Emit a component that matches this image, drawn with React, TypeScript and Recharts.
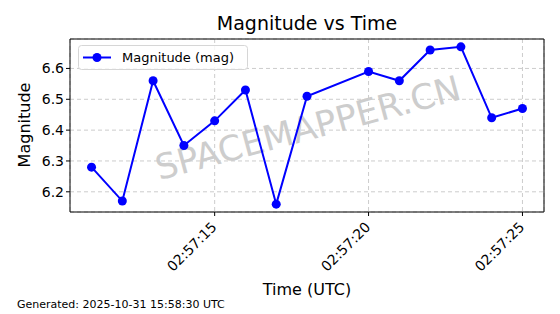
import React from 'react';
import { LineChart, Line, XAxis, YAxis, CartesianGrid } from 'recharts';

// seconds past 02:57:00 UTC
const seconds = [11, 12, 13, 14, 15, 16, 17, 18, 20, 21, 22, 23, 24, 25];
const magnitudes = [6.28, 6.17, 6.56, 6.35, 6.43, 6.53, 6.16, 6.51, 6.59, 6.56, 6.66, 6.67, 6.44, 6.47];
const xTicks = [15, 20, 25];
const yTicks = [6.2, 6.3, 6.4, 6.5, 6.6];

const data = seconds.map((s, i) => ({ t: s, mag: magnitudes[i] }));

const FONT = '"DejaVu Sans", sans-serif';
const W = 560;
const H = 314;
const X_DOMAIN: [number, number] = [10.3, 25.7];
const Y_DOMAIN: [number, number] = [6.1345, 6.6955];

const fmtTime = (s: number) => `02:57:${String(s).padStart(2, '0')}`;

const RotatedTick = ({ x, y, payload }: any) => (
  <g transform={`translate(${x},${y})`}>
    <text
      x={0}
      y={0}
      dx={-5}
      dy={9}
      transform="rotate(-45)"
      textAnchor="end"
      fontSize={14}
      fontFamily={FONT}
      fill="#000"
    >
      {fmtTime(payload.value)}
    </text>
  </g>
);

export default function App() {
  return (
    <div style={{ position: 'absolute', left: 0, top: 0, width: W, height: H, background: '#fff' }}>
      <svg width={W} height={H} style={{ position: 'absolute', left: 0, top: 0 }}>
        <text
          x={308}
          y={140}
          textAnchor="middle"
          fontSize={35}
          fontFamily={FONT}
          fill="#cdcdcd"
          transform="rotate(-15, 308, 128)"
        >
          SPACEMAPPER.CN
        </text>
      </svg>
      <div style={{ position: 'absolute', left: 0, top: 0 }}>
        <LineChart width={W} height={H} data={data} margin={{ top: 38, right: 15, left: 0, bottom: 0 }}>
          <CartesianGrid stroke="#cccccc" strokeDasharray="4 3" />
          <XAxis
            dataKey="t"
            type="number"
            domain={X_DOMAIN}
            ticks={xTicks}
            allowDataOverflow
            height={102}
            tick={<RotatedTick />}
            tickSize={4}
            stroke="#000"
            interval={0}
          />
          <XAxis xAxisId="top" orientation="top" dataKey="t" type="number" domain={X_DOMAIN} height={1} tick={false} tickLine={false} stroke="#000" />
          <YAxis
            type="number"
            domain={Y_DOMAIN}
            ticks={yTicks}
            allowDataOverflow
            width={70}
            tickSize={4}
            stroke="#000"
            tick={{ fontSize: 14, fontFamily: FONT, fill: '#000' }}
            tickFormatter={(v: number) => v.toFixed(1)}
            interval={0}
          />
          <YAxis yAxisId="right" orientation="right" domain={Y_DOMAIN} width={1} tick={false} tickLine={false} stroke="#000" />
          <Line
            dataKey="mag"
            name="Magnitude (mag)"
            stroke="#0000ff"
            strokeWidth={2}
            dot={{ r: 4.5, fill: '#0000ff', stroke: '#0000ff', strokeWidth: 0 }}
            activeDot={false}
            isAnimationActive={false}
          />
        </LineChart>
      </div>
      <svg width={W} height={H} style={{ position: 'absolute', left: 0, top: 0, pointerEvents: 'none' }}>
        <g transform="translate(78,45)">
          <rect x={0.5} y={0.5} width={169} height={24} rx={3} fill="#fff" fillOpacity={0.8} stroke="#d6d6d6" />
          <line x1={5} y1={12.5} x2={33} y2={12.5} stroke="#0000ff" strokeWidth={2} />
          <circle cx={19} cy={12.5} r={4.5} fill="#0000ff" />
          <text x={44} y={17} fontSize={13} fontFamily={FONT} fill="#000">Magnitude (mag)</text>
        </g>
        <text x={307} y={30} textAnchor="middle" fontSize={19} fontFamily={FONT} fill="#000">Magnitude vs Time</text>
        <text x={307} y={295} textAnchor="middle" fontSize={16} fontFamily={FONT} fill="#000">Time (UTC)</text>
        <text x={30} y={125} textAnchor="middle" fontSize={16} fontFamily={FONT} fill="#000" transform="rotate(-90, 30, 125)">Magnitude</text>
        <text x={17} y={308} fontSize={11} fontFamily={FONT} fill="#000">Generated: 2025-10-31 15:58:30 UTC</text>
      </svg>
    </div>
  );
}
